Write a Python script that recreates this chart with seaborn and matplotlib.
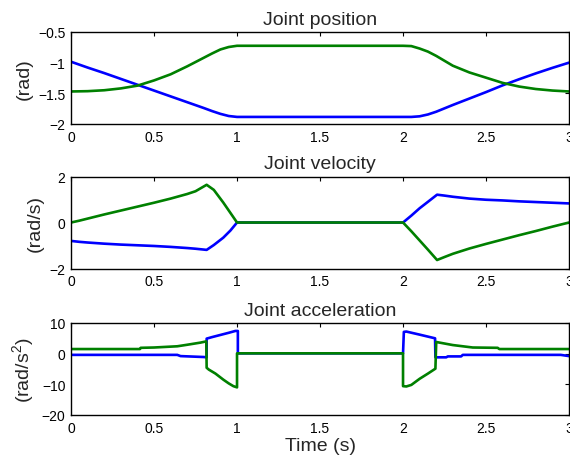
import matplotlib
matplotlib.use("Agg")
import matplotlib.pyplot as plt
import seaborn as sns

# ---- joint position (rad) ----
t_pos = [0.0, 0.1, 0.2, 0.3, 0.4, 0.5, 0.6, 0.7, 0.8, 0.85, 0.9, 0.95, 1.0,
         2.0, 2.05, 2.1, 2.15, 2.2, 2.3, 2.4, 2.5, 2.6, 2.7, 2.8, 2.9, 3.0]
pos_j1 = [-0.985, -1.08, -1.17, -1.265, -1.36, -1.455, -1.55, -1.645, -1.74, -1.79, -1.835, -1.87, -1.885,
          -1.885, -1.885, -1.875, -1.845, -1.80, -1.69, -1.585, -1.48, -1.37, -1.27, -1.175, -1.085, -1.0]
pos_j2 = [-1.47, -1.465, -1.45, -1.42, -1.375, -1.29, -1.19, -1.06, -0.92, -0.85, -0.785, -0.745, -0.725,
          -0.725, -0.73, -0.77, -0.82, -0.89, -1.05, -1.16, -1.245, -1.33, -1.39, -1.43, -1.455, -1.47]

# ---- joint velocity (rad/s) ----
t_vel = [0.0, 0.05, 0.1, 0.2, 0.3, 0.4, 0.5, 0.6, 0.7, 0.75, 0.817, 0.86, 0.917, 0.96, 1.0,
         2.0, 2.05, 2.1, 2.15, 2.205, 2.25, 2.3, 2.4, 2.5, 2.6, 2.7, 2.8, 2.9, 3.0]
vel_j1 = [-0.80, -0.84, -0.87, -0.92, -0.96, -0.99, -1.02, -1.06, -1.11, -1.14, -1.19, -0.98, -0.66, -0.35, 0.0,
          0.0, 0.30, 0.62, 0.90, 1.21, 1.17, 1.12, 1.04, 0.99, 0.96, 0.92, 0.89, 0.86, 0.83]
vel_j2 = [0.0, 0.08, 0.17, 0.35, 0.52, 0.69, 0.86, 1.04, 1.24, 1.36, 1.64, 1.42, 0.87, 0.42, 0.0,
          0.0, -0.38, -0.78, -1.18, -1.63, -1.50, -1.36, -1.13, -0.93, -0.74, -0.55, -0.37, -0.18, 0.0]

# ---- joint acceleration (rad/s^2), switching instants appear twice ----
t_acc_j1 = [0.0, 0.64, 0.66, 0.8, 0.817, 0.817, 0.85, 0.9, 0.95, 0.99, 1.005, 1.005,
            2.0, 2.005, 2.02, 2.1, 2.193, 2.195, 2.26, 2.27, 2.35, 2.36, 2.95, 3.0]
acc_j1 = [-0.4, -0.4, -0.8, -1.1, -1.2, 4.9, 5.4, 6.1, 6.8, 7.4, 7.4, 0.1,
          0.1, 7.1, 7.2, 6.2, 5.0, -1.2, -1.2, -0.9, -0.9, -0.4, -0.4, -0.8]
t_acc_j2 = [0.0, 0.2, 0.415, 0.42, 0.5, 0.64, 0.7, 0.78, 0.815, 0.817, 0.83, 0.87, 0.918, 0.95, 0.978, 1.0, 1.0,
            2.0, 2.0, 2.02, 2.05, 2.1, 2.15, 2.195, 2.2, 2.3, 2.42, 2.57, 2.58, 2.8, 3.0]
acc_j2 = [1.5, 1.5, 1.5, 1.9, 2.0, 2.4, 2.9, 3.6, 4.0, -4.6, -5.2, -6.5, -8.5, -9.7, -10.6, -11.0, 0.1,
          0.1, -10.6, -10.7, -10.2, -8.2, -6.5, -4.9, 3.8, 2.8, 2.0, 1.9, 1.5, 1.5, 1.5]

x_ticks = [0, 0.5, 1, 1.5, 2, 2.5, 3]
x_ticklabels = ["0", "0.5", "1", "1.5", "2", "2.5", "3"]

panels = [
    ("Joint position", "(rad)", t_pos, pos_j1, t_pos, pos_j2,
     (-2, -0.5), [-2, -1.5, -1, -0.5], ["\u22122", "\u22121.5", "\u22121", "\u22120.5"]),
    ("Joint velocity", "(rad/s)", t_vel, vel_j1, t_vel, vel_j2,
     (-2, 2), [-2, 0, 2], ["\u22122", "0", "2"]),
    ("Joint acceleration", "(rad/s$^2$)", t_acc_j1, acc_j1, t_acc_j2, acc_j2,
     (-20, 10), [-20, -10, 0, 10], ["\u221220", "\u221210", "0", "10"]),
]

sns.set_style("white")
plt.rcParams.update({
    "font.family": ["Liberation Sans", "DejaVu Sans"],
    "mathtext.fontset": "custom",
    "mathtext.rm": "Liberation Sans",
    "mathtext.it": "Liberation Sans",
    "axes.edgecolor": "black",
    "axes.linewidth": 1.0,
    "xtick.direction": "in",
    "ytick.direction": "in",
    "xtick.top": True,
    "ytick.right": True,
    "xtick.major.size": 3.2,
    "ytick.major.size": 3.2,
    "xtick.major.width": 0.8,
    "ytick.major.width": 0.8,
    "xtick.color": "black",
    "ytick.color": "black",
})

fig = plt.figure(figsize=(5.7, 4.6), dpi=100)
left, width, height = 0.1246, 0.8737, 0.2
bottoms = [0.7283, 0.4141, 0.0957]

BLUE = "#0000ff"
GREEN = "#008000"

for (title, ylabel, tx1, y1, tx2, y2, ylim, yt, ytl), b in zip(panels, bottoms):
    ax = fig.add_axes([left, b, width, height])
    sns.lineplot(x=tx1, y=y1, ax=ax, color=BLUE, lw=1.9, estimator=None, sort=False)
    sns.lineplot(x=tx2, y=y2, ax=ax, color=GREEN, lw=1.9, estimator=None, sort=False)
    ax.set_xlim(0, 3)
    ax.set_ylim(*ylim)
    ax.set_xticks(x_ticks)
    ax.set_xticklabels(x_ticklabels)
    ax.set_yticks(yt)
    ax.set_yticklabels(ytl)
    ax.tick_params(labelsize=10, pad=4)
    ax.set_title(title, fontsize=14, pad=6)
    ax.set_ylabel(ylabel, fontsize=14, labelpad=4)
    ax.set_xlabel("")
    for s in ax.spines.values():
        s.set_visible(True)
        s.set_color("black")

ax.set_xlabel("Time (s)", fontsize=14, labelpad=2)

fig.savefig("out.png", dpi=100)
